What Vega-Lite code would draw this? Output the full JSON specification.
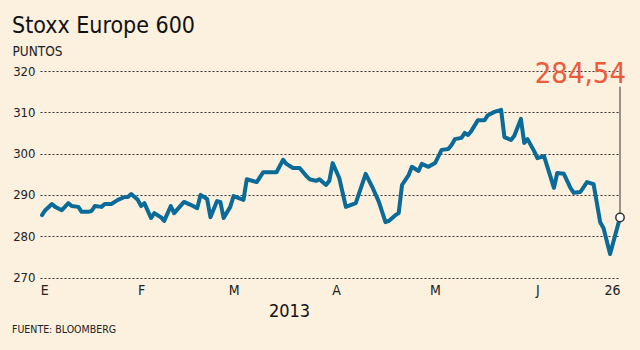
{
  "$schema": "https://vega.github.io/schema/vega-lite/v6.json",
  "width": 580,
  "height": 206.5,
  "autosize": {"type": "none"},
  "padding": {"left": 40, "top": 71, "right": 20, "bottom": 72.5},
  "background": "#fcf0de",
  "config": {
    "font": "DejaVu Sans Condensed, DejaVu Sans, sans-serif",
    "view": {"stroke": null},
    "locale": {"number": {"decimal": ",", "thousands": ".", "grouping": [3], "currency": ["", " €"]}}
  },
  "title": {
    "text": "Stoxx Europe 600",
    "anchor": "start",
    "frame": "group",
    "fontSize": 23,
    "fontWeight": "normal",
    "color": "#111111",
    "dx": -28,
    "offset": 6
  },
  "data": {
    "values": [
      {"d": "2013-01-02T00:00", "v": 285.1},
      {"d": "2013-01-03T00:00", "v": 286.3},
      {"d": "2013-01-05T00:00", "v": 287.8},
      {"d": "2013-01-06T00:00", "v": 287.1},
      {"d": "2013-01-08T00:00", "v": 286.3},
      {"d": "2013-01-10T00:00", "v": 288.0},
      {"d": "2013-01-11T00:00", "v": 287.3},
      {"d": "2013-01-13T00:00", "v": 287.1},
      {"d": "2013-01-14T00:00", "v": 285.9},
      {"d": "2013-01-16T00:00", "v": 285.9},
      {"d": "2013-01-17T00:00", "v": 286.1},
      {"d": "2013-01-18T00:00", "v": 287.3},
      {"d": "2013-01-20T00:00", "v": 287.1},
      {"d": "2013-01-21T00:00", "v": 287.8},
      {"d": "2013-01-23T00:00", "v": 287.8},
      {"d": "2013-01-25T00:00", "v": 288.8},
      {"d": "2013-01-27T00:00", "v": 289.5},
      {"d": "2013-01-28T00:00", "v": 289.5},
      {"d": "2013-01-29T00:00", "v": 290.2},
      {"d": "2013-01-31T00:00", "v": 288.8},
      {"d": "2013-02-01T00:00", "v": 287.3},
      {"d": "2013-02-02T00:00", "v": 288.0},
      {"d": "2013-02-04T00:00", "v": 284.4},
      {"d": "2013-02-05T00:00", "v": 285.6},
      {"d": "2013-02-07T00:00", "v": 284.6},
      {"d": "2013-02-08T00:00", "v": 283.7},
      {"d": "2013-02-10T00:00", "v": 287.3},
      {"d": "2013-02-11T00:00", "v": 285.6},
      {"d": "2013-02-14T00:00", "v": 288.3},
      {"d": "2013-02-16T00:00", "v": 287.6},
      {"d": "2013-02-18T00:00", "v": 286.8},
      {"d": "2013-02-19T00:00", "v": 290.0},
      {"d": "2013-02-21T00:00", "v": 289.0},
      {"d": "2013-02-22T00:00", "v": 284.6},
      {"d": "2013-02-24T00:00", "v": 288.5},
      {"d": "2013-02-25T00:00", "v": 288.3},
      {"d": "2013-02-26T00:00", "v": 284.4},
      {"d": "2013-02-28T00:00", "v": 287.1},
      {"d": "2013-03-01T00:00", "v": 289.7},
      {"d": "2013-03-04T00:00", "v": 288.8},
      {"d": "2013-03-05T00:00", "v": 293.8},
      {"d": "2013-03-08T00:00", "v": 293.1},
      {"d": "2013-03-10T00:00", "v": 295.5},
      {"d": "2013-03-14T00:00", "v": 295.5},
      {"d": "2013-03-16T00:00", "v": 298.5},
      {"d": "2013-03-17T00:00", "v": 297.5},
      {"d": "2013-03-19T00:00", "v": 296.5},
      {"d": "2013-03-21T00:00", "v": 296.5},
      {"d": "2013-03-23T00:00", "v": 294.6},
      {"d": "2013-03-24T00:00", "v": 293.8},
      {"d": "2013-03-26T00:00", "v": 293.4},
      {"d": "2013-03-27T00:00", "v": 293.8},
      {"d": "2013-03-29T00:00", "v": 292.4},
      {"d": "2013-03-30T00:00", "v": 293.4},
      {"d": "2013-03-31T00:00", "v": 297.7},
      {"d": "2013-04-02T00:00", "v": 294.1},
      {"d": "2013-04-04T00:00", "v": 287.1},
      {"d": "2013-04-07T00:00", "v": 288.0},
      {"d": "2013-04-10T00:00", "v": 295.1},
      {"d": "2013-04-12T00:00", "v": 291.9},
      {"d": "2013-04-14T00:00", "v": 288.3},
      {"d": "2013-04-16T00:00", "v": 283.4},
      {"d": "2013-04-17T00:00", "v": 283.7},
      {"d": "2013-04-19T00:00", "v": 285.1},
      {"d": "2013-04-20T00:00", "v": 285.6},
      {"d": "2013-04-21T00:00", "v": 292.4},
      {"d": "2013-04-23T00:00", "v": 294.8},
      {"d": "2013-04-24T00:00", "v": 296.8},
      {"d": "2013-04-26T00:00", "v": 295.8},
      {"d": "2013-04-27T00:00", "v": 297.5},
      {"d": "2013-04-29T00:00", "v": 296.8},
      {"d": "2013-05-01T00:00", "v": 297.7},
      {"d": "2013-05-03T00:00", "v": 300.9},
      {"d": "2013-05-05T00:00", "v": 301.1},
      {"d": "2013-05-06T00:00", "v": 302.1},
      {"d": "2013-05-07T00:00", "v": 303.5},
      {"d": "2013-05-09T00:00", "v": 303.8},
      {"d": "2013-05-10T00:00", "v": 305.0},
      {"d": "2013-05-11T00:00", "v": 304.5},
      {"d": "2013-05-12T00:00", "v": 305.5},
      {"d": "2013-05-14T00:00", "v": 308.1},
      {"d": "2013-05-16T00:00", "v": 308.1},
      {"d": "2013-05-17T00:00", "v": 309.3},
      {"d": "2013-05-19T00:00", "v": 310.1},
      {"d": "2013-05-21T00:00", "v": 310.6},
      {"d": "2013-05-22T00:00", "v": 304.0},
      {"d": "2013-05-24T00:00", "v": 303.3},
      {"d": "2013-05-25T00:00", "v": 304.3},
      {"d": "2013-05-27T00:00", "v": 308.4},
      {"d": "2013-05-28T00:00", "v": 302.6},
      {"d": "2013-05-29T00:00", "v": 303.5},
      {"d": "2013-05-31T00:00", "v": 300.6},
      {"d": "2013-06-01T00:00", "v": 298.9},
      {"d": "2013-06-03T00:00", "v": 299.4},
      {"d": "2013-06-06T00:00", "v": 291.7},
      {"d": "2013-06-07T00:00", "v": 295.3},
      {"d": "2013-06-09T00:00", "v": 295.1},
      {"d": "2013-06-11T00:00", "v": 291.7},
      {"d": "2013-06-12T00:00", "v": 290.5},
      {"d": "2013-06-14T00:00", "v": 290.7},
      {"d": "2013-06-16T00:00", "v": 293.1},
      {"d": "2013-06-18T00:00", "v": 292.6},
      {"d": "2013-06-20T00:00", "v": 283.4},
      {"d": "2013-06-21T00:00", "v": 282.0},
      {"d": "2013-06-23T00:00", "v": 275.7},
      {"d": "2013-06-26T00:00", "v": 284.54}
    ]
  },
  "layer": [
    {
      "mark": {"type": "line", "color": "#0a6a98", "strokeWidth": 4, "strokeJoin": "round", "strokeCap": "round"},
      "encoding": {
        "x": {
          "field": "d",
          "type": "temporal",
          "scale": {"domain": [{"year": 2013, "month": 1, "date": 1, "hours": 9, "minutes": 30}, {"year": 2013, "month": 6, "date": 26}]},
          "axis": {
            "values": [
              {"year": 2013, "month": 1, "date": 1, "hours": 12},
              {"year": 2013, "month": 2, "date": 1},
              {"year": 2013, "month": 3, "date": 1},
              {"year": 2013, "month": 4, "date": 1},
              {"year": 2013, "month": 5, "date": 1},
              {"year": 2013, "month": 6, "date": 1},
              {"year": 2013, "month": 6, "date": 26}
            ],
            "labelExpr": "date(datum.value) == 26 ? '26' : ['E','F','M','A','M','J'][month(datum.value)]",
            "labelFlush": true,
            "grid": false,
            "ticks": false,
            "domain": false,
            "labelFontSize": 14,
            "labelPadding": 6,
            "labelColor": "#222222",
            "title": "2013",
            "titleFontSize": 18,
            "titleFontWeight": "normal",
            "titleColor": "#111111",
            "titleX": 249,
            "titleY": 39,
            "titleAlign": "center",
            "titleBaseline": "alphabetic"
          }
        },
        "y": {
          "field": "v",
          "type": "quantitative",
          "scale": {"domain": [270, 320], "nice": false, "zero": false},
          "axis": {
            "values": [270, 280, 290, 300, 310, 320],
            "format": "d",
            "grid": true,
            "gridDash": [2, 2],
            "gridColor": "#333333",
            "gridWidth": 1,
            "ticks": false,
            "domain": false,
            "labelFontSize": 13,
            "labelPadding": 5,
            "labelColor": "#222222",
            "title": "PUNTOS",
            "titleAngle": 0,
            "titleAlign": "left",
            "titleBaseline": "alphabetic",
            "titleX": -28,
            "titleY": -16,
            "titleFontSize": 13.5,
            "titleFontWeight": "normal",
            "titleColor": "#222222"
          }
        }
      }
    },
    {
      "transform": [{"filter": "datum.v == 284.54"}],
      "mark": {"type": "rule", "color": "#333333", "strokeWidth": 1},
      "encoding": {
        "x": {"field": "d", "type": "temporal"},
        "y": {"field": "v", "type": "quantitative"},
        "y2": {"datum": 316.2}
      }
    },
    {
      "transform": [{"filter": "datum.v == 284.54"}],
      "mark": {"type": "point", "filled": true, "fill": "#ffffff", "stroke": "#333333", "strokeWidth": 1.5, "size": 70, "opacity": 1},
      "encoding": {
        "x": {"field": "d", "type": "temporal"},
        "y": {"field": "v", "type": "quantitative"}
      }
    },
    {
      "transform": [{"filter": "datum.v == 284.54"}],
      "mark": {"type": "text", "align": "right", "baseline": "alphabetic", "dx": 6, "fontSize": 29, "color": "#ec5a3c"},
      "encoding": {
        "x": {"field": "d", "type": "temporal"},
        "y": {"datum": 317.2},
        "text": {"field": "v", "type": "quantitative", "format": ".2f"}
      }
    },
    {
      "data": {"values": [{"src": "FUENTE: BLOOMBERG"}]},
      "mark": {"type": "text", "align": "left", "baseline": "alphabetic", "fontSize": 10.5, "color": "#222222", "dx": -28},
      "encoding": {
        "x": {"datum": {"year": 2013, "month": 1, "date": 1, "hours": 9, "minutes": 30}},
        "y": {"datum": 256.6},
        "text": {"field": "src"}
      }
    }
  ]
}
